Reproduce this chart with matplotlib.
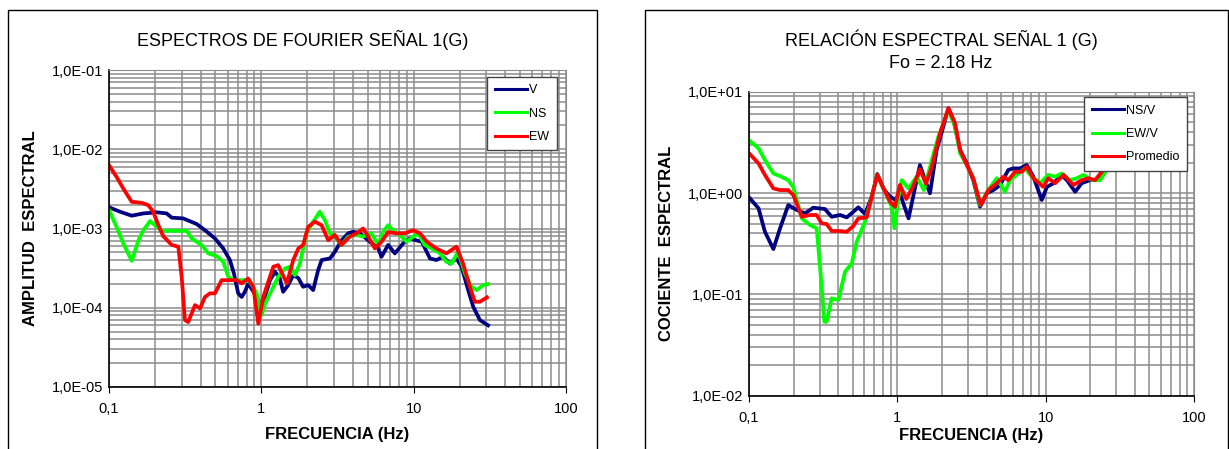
import matplotlib.pyplot as plt
from matplotlib.ticker import LogLocator, FuncFormatter, NullFormatter, FixedLocator
from matplotlib.patches import Rectangle

plt.rcParams['font.family'] = ['Liberation Sans Narrow', 'Liberation Sans', 'DejaVu Sans']

# ---- left chart: Fourier spectra ----
f_v = [0.100, 0.118, 0.141, 0.168, 0.206, 0.239, 0.258, 0.307, 0.376, 0.427, 0.496, 0.562,
       0.622, 0.661, 0.705, 0.743, 0.780, 0.820, 0.931, 1.005, 1.14, 1.23, 1.32, 1.39, 1.50,
       1.62, 1.75, 1.88, 2.03, 2.19, 2.36, 2.49, 2.82, 3.04, 3.36, 3.72, 4.01, 4.44, 5.03,
       5.85, 6.15, 6.80, 7.53, 8.54, 9.44, 10.4, 11.3, 12.8, 14.1, 15.6, 17.3, 19.1, 20.6,
       22.8, 24.6, 27.2, 30.8]
amp_v = [1.85e-3, 1.63e-3, 1.45e-3, 1.55e-3, 1.60e-3, 1.55e-3, 1.37e-3, 1.34e-3, 1.14e-3,
         9.5e-4, 7.5e-4, 5.6e-4, 4.0e-4, 2.7e-4, 1.52e-4, 1.37e-4, 1.59e-4, 2.03e-4, 1.37e-4,
         1.03e-4, 2.23e-4, 2.84e-4, 2.37e-4, 1.59e-4, 1.93e-4, 2.58e-4, 2.37e-4, 1.84e-4,
         1.93e-4, 1.67e-4, 2.98e-4, 4.0e-4, 4.19e-4, 5.08e-4, 7.1e-4, 8.7e-4, 9.1e-4, 8.7e-4,
         7.1e-4, 5.6e-4, 4.4e-4, 6.2e-4, 4.85e-4, 6.5e-4, 7.5e-4, 7.1e-4, 6.8e-4, 4.19e-4,
         4.0e-4, 4.4e-4, 3.6e-4, 4.19e-4, 3.3e-4, 1.67e-4, 1.03e-4, 7.0e-5, 6.0e-5]

f_ns = [0.100, 0.112, 0.124, 0.141, 0.156, 0.168, 0.186, 0.206, 0.222, 0.324, 0.349, 0.376,
        0.406, 0.448, 0.509, 0.562, 0.607, 0.654, 0.780, 0.842, 0.931, 1.005, 1.06, 1.17,
        1.29, 1.43, 1.54, 1.66, 1.79, 1.98, 2.19, 2.42, 2.61, 2.82, 3.04, 3.36, 3.72, 4.22,
        4.66, 5.29, 5.85, 6.31, 6.80, 7.33, 8.11, 8.98, 9.93, 10.7, 11.8, 13.1, 14.9, 16.4,
        17.7, 19.6, 21.7, 24.0, 25.9, 28.6, 30.8]
amp_ns = [1.71e-3, 1.05e-3, 6.5e-4, 3.9e-4, 7.1e-4, 9.5e-4, 1.24e-3, 1.05e-3, 9.35e-4,
          9.35e-4, 7.5e-4, 6.8e-4, 6.2e-4, 4.85e-4, 4.5e-4, 3.8e-4, 2.45e-4, 2.23e-4, 2.23e-4,
          2.12e-4, 1.52e-4, 8.1e-5, 1.13e-4, 1.67e-4, 2.45e-4, 3.13e-4, 3.3e-4, 2.58e-4,
          3.6e-4, 8.7e-4, 1.22e-3, 1.63e-3, 1.28e-3, 8.7e-4, 7.9e-4, 6.2e-4, 7.9e-4, 8.3e-4,
          7.9e-4, 8.7e-4, 6.2e-4, 9.1e-4, 1.10e-3, 9.5e-4, 8.3e-4, 6.8e-4, 7.9e-4, 8.7e-4,
          6.2e-4, 5.6e-4, 4.85e-4, 3.8e-4, 3.6e-4, 5.1e-4, 2.7e-4, 1.84e-4, 1.67e-4, 1.93e-4,
          1.99e-4]

f_ew = [0.100, 0.112, 0.124, 0.141, 0.164, 0.181, 0.195, 0.211, 0.227, 0.258, 0.285, 0.300,
        0.315, 0.331, 0.367, 0.396, 0.427, 0.460, 0.496, 0.549, 0.688, 0.743, 0.820, 0.885,
        0.955, 1.03, 1.11, 1.20, 1.29, 1.47, 1.62, 1.75, 1.88, 2.03, 2.25, 2.49, 2.75, 3.04,
        3.36, 3.81, 4.22, 4.66, 5.03, 5.56, 6.15, 6.80, 7.72, 8.75, 9.93, 11.0, 12.2, 14.1,
        16.4, 19.1, 21.1, 23.4, 25.2, 27.2, 30.3]
amp_ew = [6.3e-3, 4.5e-3, 3.2e-3, 2.17e-3, 2.11e-3, 1.97e-3, 1.63e-3, 1.10e-3, 8.0e-4,
          6.2e-4, 5.9e-4, 2.45e-4, 7.0e-5, 6.6e-5, 1.08e-4, 9.8e-5, 1.37e-4, 1.52e-4,
          1.52e-4, 2.23e-4, 2.23e-4, 2.03e-4, 2.34e-4, 1.84e-4, 6.3e-5, 1.37e-4, 2.12e-4,
          3.3e-4, 3.45e-4, 2.03e-4, 4.0e-4, 5.6e-4, 6.2e-4, 1.05e-3, 1.22e-3, 1.10e-3, 7.1e-4,
          8.3e-4, 6.2e-4, 7.9e-4, 8.7e-4, 1.0e-3, 7.9e-4, 5.6e-4, 6.8e-4, 9.0e-4, 8.7e-4,
          8.7e-4, 9.5e-4, 8.7e-4, 6.8e-4, 5.6e-4, 4.85e-4, 5.9e-4, 3.6e-4, 1.84e-4, 1.19e-4,
          1.19e-4, 1.35e-4]

# ---- right chart: spectral ratios ----
f_nsv = [0.100, 0.116, 0.128, 0.146, 0.162, 0.184, 0.210, 0.239, 0.271, 0.325, 0.361, 0.411,
         0.456, 0.505, 0.546, 0.606, 0.672, 0.733, 0.805, 0.869, 0.964, 1.04, 1.19, 1.32,
         1.42, 1.54, 1.66, 1.84, 2.04, 2.21, 2.39, 2.65, 2.94, 3.25, 3.61, 4.01, 4.44, 4.93,
         5.60, 6.05, 6.71, 7.46, 8.26, 9.41, 10.2, 11.3, 12.8, 13.9, 15.8, 17.5, 19.9, 22.1,
         24.5, 27.2, 29.4]
r_nsv = [0.908, 0.706, 0.415, 0.280, 0.449, 0.762, 0.680, 0.631, 0.716, 0.695, 0.583, 0.607,
         0.575, 0.653, 0.723, 0.621, 0.919, 1.54, 1.11, 0.955, 0.853, 0.993, 0.562, 1.15, 1.89,
         1.34, 0.993, 2.66, 4.51, 6.86, 5.26, 2.66, 1.96, 1.34, 0.733, 0.993, 1.07, 1.20, 1.69,
         1.75, 1.75, 1.89, 1.45, 0.853, 1.15, 1.25, 1.50, 1.34, 1.03, 1.25, 1.34, 1.34, 1.69,
         2.12, 2.66]

f_ewv = [0.100, 0.116, 0.128, 0.146, 0.162, 0.184, 0.199, 0.227, 0.258, 0.286, 0.309, 0.322,
         0.334, 0.361, 0.400, 0.444, 0.493, 0.532, 0.606, 0.672, 0.733, 0.826, 0.916, 0.955,
         1.02, 1.07, 1.19, 1.35, 1.51, 1.71, 1.89, 2.21, 2.45, 2.65, 2.94, 3.25, 3.61, 4.11,
         4.68, 5.32, 5.75, 6.38, 7.26, 8.06, 9.17, 10.4, 11.6, 12.8, 14.6, 16.2, 18.0, 20.5,
         23.3, 25.8, 27.9, 29.8]
r_ewv = [3.33, 2.76, 2.12, 1.56, 1.47, 1.34, 1.14, 0.562, 0.483, 0.449, 0.119, 0.0537, 0.0537,
         0.0914, 0.0879, 0.167, 0.202, 0.331, 0.521, 0.919, 1.51, 1.03, 0.733, 0.449, 0.919,
         1.34, 1.11, 1.45, 1.07, 2.12, 3.60, 6.60, 4.51, 2.47, 1.89, 1.40, 0.762, 1.07, 1.40,
         1.03, 1.34, 1.51, 1.75, 1.45, 1.25, 1.51, 1.45, 1.56, 1.34, 1.40, 1.51, 1.34, 1.34,
         1.69, 1.96, 2.37]

f_prom = [0.100, 0.116, 0.128, 0.146, 0.162, 0.184, 0.199, 0.227, 0.258, 0.286, 0.309, 0.334,
          0.361, 0.411, 0.456, 0.505, 0.546, 0.622, 0.672, 0.733, 0.818, 0.893, 0.964, 1.04,
          1.15, 1.28, 1.42, 1.56, 1.71, 1.94, 2.21, 2.45, 2.65, 2.94, 3.25, 3.65, 4.11, 4.68,
          5.19, 5.60, 6.22, 6.90, 7.46, 8.26, 9.64, 10.4, 11.6, 13.2, 15.4, 17.5, 19.4, 21.5,
          23.9, 26.5, 28.9]
r_prom = [2.47, 1.96, 1.51, 1.11, 1.07, 1.07, 0.955, 0.583, 0.607, 0.607, 0.502, 0.494, 0.422,
          0.422, 0.415, 0.472, 0.562, 0.575, 0.919, 1.51, 1.07, 0.820, 0.733, 1.20, 0.873, 1.17,
          1.72, 1.23, 1.82, 3.88, 6.86, 4.88, 2.66, 1.89, 1.40, 0.762, 1.07, 1.25, 1.45, 1.34,
          1.62, 1.62, 1.82, 1.40, 1.15, 1.40, 1.25, 1.51, 1.20, 1.34, 1.40, 1.34, 1.62, 2.20,
          2.79]

NAVY = "#000080"
GREEN = "#00FF00"
RED = "#FF0000"
GRID = "#8c8c8c"
LW = 2.7


def sci_label(v, pos):
    m = "%.1E" % v
    mant, ex = m.split("E")
    return mant.replace(".", ",") + "E" + ex


def freq_label(v, pos):
    return {0.1: "0,1", 1: "1", 10: "10", 100: "100"}.get(round(v, 3), "")


def style_axes(ax, ylim):
    ax.set_xscale("log")
    ax.set_yscale("log")
    ax.set_xlim(0.1, 100)
    ax.set_ylim(*ylim)
    ax.xaxis.set_major_locator(FixedLocator([0.1, 1, 10, 100]))
    ax.xaxis.set_minor_locator(LogLocator(base=10, subs=range(2, 10)))
    ax.yaxis.set_major_locator(LogLocator(base=10, numticks=10))
    ax.yaxis.set_minor_locator(LogLocator(base=10, subs=range(2, 10), numticks=20))
    ax.xaxis.set_minor_formatter(NullFormatter())
    ax.yaxis.set_minor_formatter(NullFormatter())
    ax.xaxis.set_major_formatter(FuncFormatter(freq_label))
    ax.yaxis.set_major_formatter(FuncFormatter(sci_label))
    ax.grid(True, which="both", color=GRID, linewidth=1.1)
    ax.set_axisbelow(True)
    ax.tick_params(which="both", length=0, labelsize=10.5, pad=4)
    ax.tick_params(axis="x", which="major", length=4, direction="out", color="black", pad=7)
    for s in ("top", "right"):
        ax.spines[s].set_color(GRID)
    for s in ("left", "bottom"):
        ax.spines[s].set_color("black")
        ax.spines[s].set_linewidth(1.2)


def add_legend(ax, anchor):
    leg = ax.legend(loc="upper right", bbox_to_anchor=anchor, borderaxespad=0, fontsize=9,
                    frameon=True, fancybox=False, edgecolor="#444444", handlelength=2.6,
                    labelspacing=0.9, borderpad=0.6, handletextpad=0.15, framealpha=1)
    leg.get_frame().set_linewidth(1.0)
    for h in leg.legend_handles:
        h.set_linewidth(2.2)


fig = plt.figure(figsize=(12.29, 4.49), dpi=100)

# outer frames of the two chart areas
fig.patches.append(Rectangle((8 / 1229, -0.05), 589 / 1229, 1 - 10 / 449 + 0.05,
                             transform=fig.transFigure, fill=False, edgecolor="black", lw=1))
fig.patches.append(Rectangle((645 / 1229, -0.05), 583 / 1229, 1 - 10 / 449 + 0.05,
                             transform=fig.transFigure, fill=False, edgecolor="black", lw=1))

ax1 = fig.add_axes([109 / 1229, 1 - 387 / 449, 457 / 1229, 317 / 449])
ax1.plot(f_v, amp_v, color=NAVY, lw=LW, label="V")
ax1.plot(f_ns, amp_ns, color=GREEN, lw=LW, label="NS")
ax1.plot(f_ew, amp_ew, color=RED, lw=LW, label="EW")
style_axes(ax1, (1e-5, 1e-1))
ax1.set_xlabel("FRECUENCIA (Hz)", fontsize=12, fontweight="bold", labelpad=8)
ax1.set_ylabel("AMPLITUD  ESPECTRAL", fontsize=12, fontweight="bold", labelpad=10)
fig.text(303 / 1229, 1 - 40 / 449, "ESPECTROS DE FOURIER SEÑAL 1(G)", ha="center",
         va="center", fontsize=13)
add_legend(ax1, (0.980, 0.978))

ax2 = fig.add_axes([749 / 1229, 1 - 395.7 / 449, 445 / 1229, 304 / 449])
ax2.plot(f_nsv, r_nsv, color=NAVY, lw=LW, label="NS/V")
ax2.plot(f_ewv, r_ewv, color=GREEN, lw=LW, label="EW/V")
ax2.plot(f_prom, r_prom, color=RED, lw=LW, label="Promedio")
style_axes(ax2, (1e-2, 1e1))
ax2.set_xlabel("FRECUENCIA (Hz)", fontsize=12, fontweight="bold", labelpad=2)
ax2.set_ylabel("COCIENTE  ESPECTRAL", fontsize=12, fontweight="bold", labelpad=10)
fig.text(941 / 1229, 1 - 40 / 449, "RELACIÓN ESPECTRAL SEÑAL 1 (G)", ha="center",
         va="center", fontsize=13)
fig.text(941 / 1229, 1 - 63 / 449, "Fo = 2.18 Hz", ha="center", va="center", fontsize=13)
add_legend(ax2, (0.984, 0.982))

fig.savefig("out.png", dpi=100)
